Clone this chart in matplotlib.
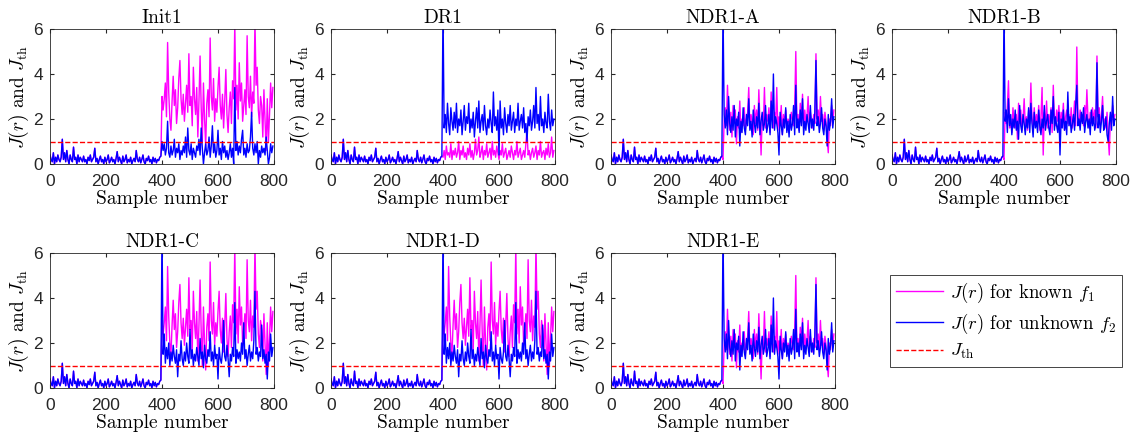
import numpy as np
import matplotlib
matplotlib.use("Agg")
import matplotlib.pyplot as plt

plt.rcParams['mathtext.fontset'] = 'cm'
plt.rcParams['axes.unicode_minus'] = False

# samples are read every 4th point off the picture
STEP = 4
x_pre = np.arange(0, 400, STEP)
x_post = np.arange(400, 800, STEP)

# healthy part (0-396), nearly the same in every panel
pre = [0.4, 0.2, 0.1, 0.5, 0.0, 0.3, 0.1, 0.4, 0.2, 0.1,
       0.3, 1.1, 0.2, 0.5, 0.1, 0.6, 0.2, 0.0, 0.4, 0.2,
       0.1, 0.75, 0.2, 0.3, 0.0, 0.4, 0.1, 0.3, 0.2, 0.1,
       0.35, 0.1, 0.2, 0.0, 0.3, 0.15, 0.4, 0.1, 0.2, 0.3,
       0.7, 0.1, 0.25, 0.0, 0.2, 0.35, 0.1, 0.2, 0.0, 0.3,
       0.1, 0.2, 0.4, 0.05, 0.15, 0.3, 0.1, 0.2, 0.0, 0.25,
       0.55, 0.1, 0.3, 0.15, 0.0, 0.35, 0.1, 0.2, 0.4, 0.05,
       0.2, 0.1, 0.3, 0.0, 0.15, 0.25, 0.1, 0.6, 0.2, 0.1,
       0.3, 0.05, 0.2, 0.4, 0.1, 0.0, 0.25, 0.15, 0.35, 0.1,
       0.2, 0.0, 0.3, 0.1, 0.25, 0.05, 0.2, 0.15, 0.3, 0.35]

# faulty part (400-796)
hi_mag = [3.0, 2.4, 2.9, 3.6, 2.1, 5.4, 3.2, 2.0, 1.5, 2.8,
          3.9, 2.6, 3.3, 1.8, 2.5, 3.8, 4.6, 2.9, 2.2, 3.1,
          1.9, 2.7, 3.5, 2.3, 4.9, 2.6, 3.0, 1.7, 4.3, 2.9,
          2.2, 3.4, 1.2, 2.8, 4.8, 2.5, 1.0, 3.6, 2.0, 0.8,
          2.7, 3.3, 2.1, 5.6, 3.0, 2.4, 3.8, 1.9, 2.9, 2.3,
          3.4, 4.3, 2.6, 2.0, 3.1, 1.6, 2.8, 4.2, 2.2, 1.4,
          2.5, 3.2, 1.8, 3.7, 2.9, 6.3, 2.4, 3.5, 2.0, 4.5,
          2.8, 3.6, 1.9, 2.6, 3.3, 2.2, 5.7, 3.0, 2.5, 3.9,
          2.1, 3.2, 2.7, 6.4, 3.5, 4.3, 2.4, 1.8, 3.0, 2.6,
          1.2, 3.3, 2.0, 0.6, 2.9, 1.0, 2.2, 3.6, 2.5, 3.4]

init_blue = [1.0, 0.6, 0.9, 0.4, 0.7, 1.9, 0.5, 0.3, 0.8, 0.4,
             0.6, 1.1, 0.3, 0.7, 0.5, 0.9, 0.2, 0.6, 0.4, 0.8,
             0.5, 1.2, 0.3, 1.6, 0.6, 0.4, 0.9, 0.2, 0.7, 0.5,
             0.3, 0.8, 0.6, 1.1, 0.4, 1.6, 0.7, 0.0, 0.5, 0.9,
             0.4, 0.6, 1.2, 0.3, 0.8, 1.7, 0.5, 0.9, 0.3, 0.6,
             1.5, 0.4, 0.7, 0.2, 1.0, 0.5, 0.8, 0.3, 0.6, 0.2,
             0.5, 0.9, 0.3, 0.7, 0.0, 3.4, 0.6, 1.0, 0.4, 0.8,
             0.5, 1.1, 1.5, 0.4, 0.7, 0.3, 0.9, 0.5, 0.6, 1.2,
             2.3, 0.7, 0.4, 0.9, 0.5, 1.0, 0.0, 0.6, 0.3, 0.8,
             0.5, 0.7, 0.4, 1.2, 0.6, 0.0, 0.3, 0.9, 0.5, 0.8]

dr_blue = [7.0, 1.6, 2.2, 1.4, 2.7, 1.8, 1.3, 2.5, 1.9, 1.5,
           2.3, 1.6, 2.7, 1.4, 2.0, 1.7, 2.4, 1.3, 1.9, 2.6,
           1.5, 2.1, 1.8, 2.7, 1.4, 2.0, 1.6, 2.3, 1.2, 1.9,
           2.5, 1.6, 2.8, 1.4, 1.9, 2.2, 1.5, 2.6, 1.7, 1.3,
           2.0, 1.6, 2.4, 1.8, 1.4, 3.2, 1.7, 2.1, 1.5, 2.4,
           0.4, 2.8, 1.6, 2.0, 1.3, 2.5, 1.8, 1.4, 2.2, 1.7,
           2.6, 1.5, 1.9, 2.3, 1.4, 2.0, 1.7, 2.7, 1.5, 1.9,
           2.2, 1.6, 2.5, 1.4, 1.8, 1.0, 2.1, 1.7, 2.4, 1.5,
           1.9, 2.6, 1.6, 3.4, 1.8, 2.2, 1.5, 3.0, 1.7, 2.0,
           1.4, 2.3, 1.8, 1.6, 3.1, 1.9, 1.5, 2.4, 1.7, 2.0]

dr_mag = [0.3, 0.6, 0.2, 0.8, 0.4, 0.5, 0.3, 0.9, 0.2, 0.6,
          0.4, 0.7, 0.3, 0.5, 1.0, 0.2, 0.6, 0.4, 0.8, 0.3,
          0.5, 0.2, 0.7, 0.4, 0.9, 0.3, 0.6, 0.2, 0.5, 1.1,
          0.4, 0.6, 1.2, 0.3, 0.5, 0.8, 0.2, 0.6, 0.4, 0.9,
          0.3, 0.5, 0.7, 0.2, 1.0, 0.4, 0.6, 0.3, 0.8, 0.5,
          0.2, 0.6, 0.4, 0.9, 0.3, 0.5, 0.7, 0.2, 0.4, 0.6,
          0.3, 0.8, 0.5, 0.2, 0.6, 0.4, 1.0, 0.3, 0.5, 0.7,
          0.2, 0.4, 0.6, 0.3, 0.9, 1.5, 0.4, 0.6, 0.2, 0.5,
          0.7, 0.3, 0.5, 0.8, 0.2, 0.6, 0.4, 1.0, 0.3, 0.5,
          0.6, 0.2, 0.7, 0.4, 0.9, 0.3, 0.5, 1.2, 0.3, 0.6]

a_blue = [7.0, 2.2, 1.6, 2.4, 1.3, 3.0, 1.8, 1.4, 2.1, 1.5,
          2.6, 1.2, 2.0, 1.7, 2.3, 0.8, 1.9, 1.4, 2.5, 1.6,
          1.3, 2.2, 1.7, 2.9, 1.5, 1.9, 1.2, 2.4, 1.8, 1.4,
          2.1, 1.6, 2.7, 1.3, 1.9, 2.3, 1.5, 1.8, 2.6, 1.4,
          1.7, 2.2, 1.3, 2.8, 1.6, 4.0, 1.5, 2.1, 1.8, 1.4,
          0.4, 2.3, 1.7, 1.3, 2.0, 1.6, 2.5, 1.4, 1.9, 1.2,
          2.2, 1.5, 1.8, 2.6, 1.3, 3.5, 1.6, 2.0, 1.4, 2.4,
          1.7, 2.9, 1.3, 1.9, 1.5, 2.2, 1.8, 1.4, 2.6, 1.6,
          2.0, 1.5, 2.3, 4.6, 1.7, 2.1, 1.4, 1.8, 2.5, 1.6,
          1.3, 2.0, 1.7, 0.8, 2.2, 1.5, 1.9, 2.9, 1.6, 2.1]

a_mag = [0.2, 1.9, 2.5, 1.7, 3.5, 2.0, 1.5, 2.3, 1.2, 2.6,
         1.8, 2.4, 0.9, 2.1, 1.6, 2.8, 1.4, 2.0, 1.7, 2.5,
         1.5, 2.0, 2.3, 3.4, 1.6, 2.2, 1.9, 1.3, 2.6, 1.8,
         2.4, 1.5, 3.3, 1.9, 0.4, 2.1, 1.7, 3.4, 1.6, 2.2,
         1.9, 2.5, 1.4, 3.2, 2.0, 1.6, 2.3, 1.8, 3.4, 1.5,
         2.1, 1.7, 2.6, 1.3, 2.2, 1.8, 2.4, 1.5, 2.0, 1.9,
         1.6, 2.3, 2.0, 1.7, 2.5, 5.0, 1.8, 2.2, 1.5, 2.7,
         1.9, 3.1, 1.6, 2.4, 1.8, 2.1, 3.0, 1.7, 2.3, 1.9,
         1.6, 2.2, 1.8, 4.9, 2.0, 2.4, 1.7, 3.0, 1.9, 2.2,
         1.5, 2.3, 1.9, 1.1, 0.5, 2.0, 1.7, 2.6, 1.8, 2.4]

b_blue = [7.0, 1.9, 2.4, 1.4, 2.9, 1.7, 2.2, 1.3, 2.0, 1.6,
          2.4, 1.5, 1.9, 1.1, 2.6, 1.7, 1.4, 2.2, 1.8, 1.3,
          2.0, 1.6, 2.5, 1.4, 2.7, 1.8, 1.2, 2.3, 1.6, 1.9,
          1.4, 2.4, 1.7, 1.3, 2.0, 1.6, 2.6, 1.5, 1.9, 2.2,
          1.6, 1.3, 2.4, 1.8, 3.0, 1.5, 2.1, 1.7, 1.4, 2.3,
          0.4, 2.0, 1.6, 2.4, 1.5, 1.9, 1.3, 3.2, 1.7, 2.1,
          1.4, 1.8, 2.2, 1.5, 2.6, 3.5, 1.7, 2.0, 1.5, 2.3,
          1.8, 2.5, 1.4, 1.9, 2.2, 1.6, 2.0, 1.3, 2.4, 1.7,
          2.1, 1.5, 1.8, 4.5, 1.6, 2.2, 1.4, 1.9, 2.6, 1.5,
          1.7, 2.1, 1.3, 1.0, 1.8, 2.3, 1.5, 3.0, 1.7, 2.0]

b_mag = [0.2, 2.3, 1.8, 2.6, 3.7, 1.6, 2.0, 1.4, 2.5, 1.9,
         1.6, 2.2, 1.1, 2.7, 1.8, 2.4, 1.5, 2.0, 2.9, 1.7,
         2.1, 1.5, 2.4, 1.8, 3.6, 2.0, 1.6, 2.5, 1.7, 2.2,
         1.8, 2.6, 1.5, 2.1, 3.4, 0.4, 2.3, 1.7, 2.8, 1.6,
         2.2, 1.8, 2.5, 1.4, 3.5, 2.0, 1.7, 2.4, 1.9, 2.6,
         1.6, 2.3, 1.9, 2.7, 1.5, 2.1, 2.4, 1.8, 2.2, 1.7,
         2.5, 1.6, 2.0, 2.8, 1.7, 5.2, 2.1, 1.8, 2.4, 1.9,
         2.2, 1.7, 2.6, 1.9, 3.3, 2.0, 1.6, 2.3, 1.8, 2.5,
         1.9, 2.4, 1.6, 4.8, 2.1, 2.5, 1.7, 2.2, 3.0, 1.8,
         2.0, 1.6, 2.3, 1.2, 0.4, 2.1, 1.8, 2.6, 1.9, 2.2]

c_blue = [7.0, 1.5, 2.4, 1.1, 1.8, 1.3, 2.0, 1.0, 1.6, 1.2,
          1.9, 1.4, 1.1, 1.7, 0.5, 1.5, 1.2, 2.1, 1.3, 1.0,
          1.6, 1.2, 2.0, 1.4, 1.1, 2.6, 1.3, 1.7, 1.0, 1.5,
          1.2, 1.8, 1.4, 1.0, 2.2, 1.3, 1.6, 0.9, 1.9, 1.3,
          1.1, 1.7, 1.4, 2.5, 1.2, 1.6, 1.0, 1.9, 1.3, 1.5,
          0.4, 1.8, 1.3, 1.1, 1.6, 3.0, 1.4, 1.2, 1.9, 1.3,
          0.5, 1.5, 1.2, 1.8, 1.4, 3.8, 1.1, 1.7, 1.3, 1.6,
          1.2, 2.0, 1.5, 2.9, 1.3, 1.7, 1.0, 1.5, 1.9, 1.2,
          1.6, 1.3, 2.1, 4.3, 1.5, 1.8, 1.2, 1.6, 1.4, 2.8,
          1.3, 1.7, 1.1, 1.5, 0.4, 1.6, 1.2, 2.4, 1.4, 1.8]

J_th = 1.0

titles = ['Init1', 'DR1', 'NDR1-A', 'NDR1-B', 'NDR1-C', 'NDR1-D', 'NDR1-E']
# (known f1 post-fault, unknown f2 post-fault) for each panel
panels = [(hi_mag, init_blue), (dr_mag, dr_blue), (a_mag, a_blue),
          (b_mag, b_blue), (hi_mag, c_blue), (hi_mag, c_blue), (a_mag, a_blue)]

serif = ['cmr10', 'DejaVu Serif']
sans = ['Liberation Sans', 'DejaVu Sans']
dark = '#262626'

fig = plt.figure(figsize=(11.34, 4.42), dpi=100)
lefts = [50, 331, 611, 892]
bottoms = [164, 388]
W, H = 224, 135

for k, (title, (mag, blue)) in enumerate(zip(titles, panels)):
    r, c = divmod(k, 4)
    ax = fig.add_axes([lefts[c] / 1134, (442 - bottoms[r]) / 442, W / 1134, H / 442])
    x_all = np.concatenate([x_pre, x_post])
    l1, = ax.plot(x_all, np.concatenate([pre, mag]), color='#FF00FF', lw=1.0)
    l2, = ax.plot(x_all, np.concatenate([pre, blue]), color='#0000FF', lw=1.0)
    l3, = ax.plot([0, 800], [J_th, J_th], 'r--', lw=1.0)
    ax.set_xlim(0, 800)
    ax.set_ylim(0, 6)
    ax.set_xticks([0, 200, 400, 600, 800])
    ax.set_yticks([0, 2, 4, 6])
    ax.tick_params(direction='in', top=True, right=True, length=3,
                   labelsize=12.5, colors=dark, labelcolor=dark)
    ax.tick_params(axis='x', pad=7)
    ax.tick_params(axis='y', pad=5)
    for lab in ax.get_xticklabels() + ax.get_yticklabels():
        lab.set_family(sans)
    for s in ax.spines.values():
        s.set_color(dark)
        s.set_linewidth(0.6)
    ax.set_title(title, fontsize=14, family=serif, pad=4)
    ax.set_xlabel('Sample number', fontsize=14, family=serif, labelpad=1)
    ax.set_ylabel(r'$J(r)$ and $J_{\rm th}$', fontsize=14, family=serif, labelpad=2)

leg = fig.legend([l1, l2, l3],
                 [r'$J(r)$ for known $f_1$', r'$J(r)$ for unknown $f_2$', r'$J_{\rm th}$'],
                 loc='upper left', bbox_to_anchor=(890 / 1134, 1 - 275 / 442),
                 prop={'family': serif, 'size': 13.5}, fancybox=False, framealpha=1,
                 edgecolor=dark, handlelength=2.5, borderpad=0.3, labelspacing=0.35,
                 handletextpad=0.4, borderaxespad=0)
leg.get_frame().set_linewidth(0.6)

fig.savefig('out.png', dpi=100)
